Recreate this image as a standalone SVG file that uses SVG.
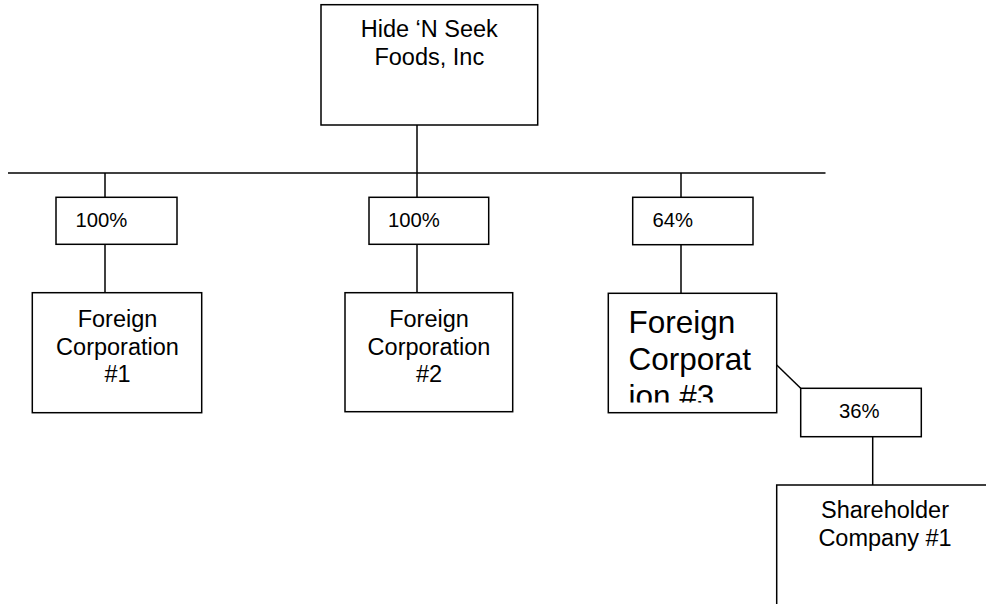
<svg xmlns="http://www.w3.org/2000/svg" width="986" height="604" viewBox="0 0 986 604">
<style>
.box{fill:#fff;stroke:#000;stroke-width:1.5}
.ln{stroke:#000;stroke-width:1.5;fill:none}
.t{font-family:"Liberation Sans",Arial,sans-serif;font-size:23.5px;fill:#000;text-anchor:middle}
.lb{font-family:"Liberation Sans",Arial,sans-serif;font-size:20.3px;fill:#000}
.big{font-family:"Liberation Sans",Arial,sans-serif;font-size:31.5px;fill:#000}
</style>
<defs>
<clipPath id="c3"><rect x="609" y="294" width="167" height="108.5"/></clipPath>
</defs>
<rect width="986" height="604" fill="#fff"/>
<g id="connectors">
<line class="ln" x1="417" y1="125" x2="417" y2="173"/>
<line class="ln" x1="8" y1="173" x2="825.5" y2="173"/>
<line class="ln" x1="105" y1="173" x2="105" y2="197.3"/>
<line class="ln" x1="417" y1="173" x2="417" y2="197.3"/>
<line class="ln" x1="681" y1="173" x2="681" y2="197.3"/>
<line class="ln" x1="105" y1="244.3" x2="105" y2="292.7"/>
<line class="ln" x1="417" y1="244.3" x2="417" y2="292.7"/>
<line class="ln" x1="681" y1="244.7" x2="681" y2="293.3"/>
<line class="ln" x1="776.7" y1="365" x2="800.7" y2="388.3"/>
<line class="ln" x1="872.7" y1="436.7" x2="872.7" y2="485"/>
</g>
<g id="parent">
<rect class="box" x="321" y="4.7" width="216.7" height="120.3"/>
<text class="t" x="429.3" y="37.4">Hide ‘N Seek</text>
<text class="t" x="429.3" y="65">Foods, Inc</text>
</g>
<g id="label1">
<rect class="box" x="56" y="197.3" width="121" height="47"/>
<text class="lb" x="75.5" y="226.7">100%</text>
</g>
<g id="label2">
<rect class="box" x="369" y="197.3" width="119.7" height="47"/>
<text class="lb" x="388" y="226.7">100%</text>
</g>
<g id="label3">
<rect class="box" x="632.7" y="197.3" width="120.3" height="47.4"/>
<text class="lb" x="652.5" y="226.7">64%</text>
</g>
<g id="fc1">
<rect class="box" x="32.3" y="292.7" width="169.4" height="120"/>
<text class="t" x="117.5" y="327.3">Foreign</text>
<text class="t" x="117.5" y="354.5">Corporation</text>
<text class="t" x="117.5" y="381.7">#1</text>
</g>
<g id="fc2">
<rect class="box" x="345" y="292.7" width="167.7" height="119"/>
<text class="t" x="429" y="327.3">Foreign</text>
<text class="t" x="429" y="354.5">Corporation</text>
<text class="t" x="429" y="381.7">#2</text>
</g>
<g id="fc3">
<rect class="box" x="608.3" y="293.3" width="168.4" height="119.4"/>
<g clip-path="url(#c3)">
<text class="big" x="628.5" y="333.3">Foreign</text>
<text class="big" x="628.5" y="370">Corporat</text>
<text class="big" x="628.5" y="406.5">ion #3</text>
</g>
</g>
<g id="label4">
<rect class="box" x="800.7" y="388.3" width="120.6" height="48.4"/>
<text class="lb" x="839" y="417.7">36%</text>
</g>
<g id="shareholder">
<rect class="box" x="776.7" y="485" width="216" height="130"/>
<text class="t" x="885" y="518.3">Shareholder</text>
<text class="t" x="885" y="545.7">Company #1</text>
</g>
</svg>
